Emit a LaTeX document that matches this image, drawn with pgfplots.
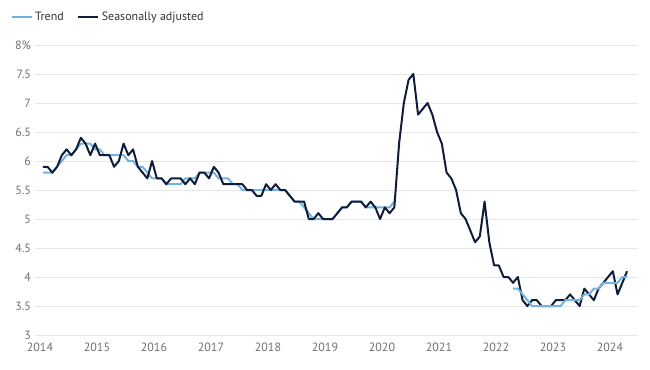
\documentclass[border=0pt]{standalone}
\usepackage{fontspec}
\setmainfont{PT Sans}
\usepackage{pgfplots}
\usepackage{pgfplotstable}
\pgfplotsset{compat=1.18}
\definecolor{navy}{HTML}{0F1D3A}
\definecolor{lblue}{HTML}{74B3DE}
\definecolor{gridc}{HTML}{E6E6E6}
\definecolor{tickc}{HTML}{707070}
\definecolor{legc}{HTML}{333333}
\pgfplotstableread{
m v
0 5.9
1 5.9
2 5.8
3 5.9
4 6.1
5 6.2
6 6.1
7 6.2
8 6.4
9 6.3
10 6.1
11 6.3
12 6.1
13 6.1
14 6.1
15 5.9
16 6.0
17 6.3
18 6.1
19 6.2
20 5.9
21 5.8
22 5.7
23 6.0
24 5.7
25 5.7
26 5.6
27 5.7
28 5.7
29 5.7
30 5.6
31 5.7
32 5.6
33 5.8
34 5.8
35 5.7
36 5.9
37 5.8
38 5.6
39 5.6
40 5.6
41 5.6
42 5.6
43 5.5
44 5.5
45 5.4
46 5.4
47 5.6
48 5.5
49 5.6
50 5.5
51 5.5
52 5.4
53 5.3
54 5.3
55 5.3
56 5.0
57 5.0
58 5.1
59 5.0
60 5.0
61 5.0
62 5.1
63 5.2
64 5.2
65 5.3
66 5.3
67 5.3
68 5.2
69 5.3
70 5.2
71 5.0
72 5.2
73 5.1
74 5.2
75 6.3
76 7.0
77 7.4
78 7.5
79 6.8
80 6.9
81 7.0
82 6.8
83 6.5
84 6.3
85 5.8
86 5.7
87 5.5
88 5.1
89 5.0
90 4.8
91 4.6
92 4.7
93 5.3
94 4.6
95 4.2
96 4.2
97 4.0
98 4.0
99 3.9
100 4.0
101 3.6
102 3.5
103 3.6
104 3.6
105 3.5
106 3.5
107 3.5
108 3.6
109 3.6
110 3.6
111 3.7
112 3.6
113 3.5
114 3.8
115 3.7
116 3.6
117 3.8
118 3.9
119 4.0
120 4.1
121 3.7
122 3.9
123 4.1
}\sa
\pgfplotstableread{
m v
0 5.8
1 5.8
2 5.8
3 5.9
4 6.0
5 6.1
6 6.1
7 6.2
8 6.3
9 6.3
10 6.3
11 6.2
12 6.2
13 6.1
14 6.1
15 6.1
16 6.1
17 6.1
18 6.0
19 6.0
20 5.9
21 5.9
22 5.8
23 5.7
24 5.7
25 5.7
26 5.6
27 5.6
28 5.6
29 5.6
30 5.7
31 5.7
32 5.7
33 5.8
34 5.8
35 5.8
36 5.8
37 5.7
38 5.7
39 5.7
40 5.6
41 5.6
42 5.5
43 5.5
44 5.5
45 5.5
46 5.5
47 5.5
48 5.5
49 5.5
50 5.5
51 5.5
52 5.4
53 5.3
54 5.3
55 5.2
56 5.1
57 5.0
58 5.0
59 5.0
60 5.0
61 5.0
62 5.1
63 5.2
64 5.2
65 5.3
66 5.3
67 5.3
68 5.2
69 5.2
70 5.2
71 5.2
72 5.2
73 5.2
74 5.3
}\trendA
\pgfplotstableread{
m v
99 3.8
100 3.8
101 3.7
102 3.6
103 3.5
104 3.5
105 3.5
106 3.5
107 3.5
108 3.5
109 3.5
110 3.6
111 3.6
112 3.6
113 3.6
114 3.7
115 3.7
116 3.8
117 3.8
118 3.9
119 3.9
120 3.9
121 3.9
122 4.0
123 4.0
}\trendB
\begin{document}
\begin{tikzpicture}
\path[use as bounding box] (0,0) rectangle (487.5pt,276.75pt);
\begin{axis}[
  at={(26.25pt,25.5pt)}, anchor=south west,
  scale only axis, width=452.25pt, height=217.5pt,
  xmin=-1.05, xmax=125.9, ymin=3, ymax=8,
  axis line style={draw=none},
  major tick length=0pt,
  ymajorgrids, grid style={gridc, line width=0.75pt},
  clip=false,
  xtick={0,12,...,120},
  xticklabels={2014,2015,2016,2017,2018,2019,2020,2021,2022,2023,2024},
  ytick={3,3.5,...,8},
  yticklabels={3,3.5,4,4.5,5,5.5,6,6.5,7,7.5,8\%},
  tick label style={font=\fontsize{9}{10}\selectfont, text=tickc},
  xticklabel style={yshift=-2.5pt},
  yticklabel style={xshift=0.5pt},
  legend style={at={(-0.041,1.0966)}, anchor=west, draw=none, fill=none,
    font=\fontsize{9}{10}\selectfont\color{legc}, legend columns=2,
    /tikz/every even column/.append style={column sep=8pt},
    inner sep=0pt},
  legend image code/.code={\draw[#1, line width=1.5pt] (0pt,0pt) -- (15pt,0pt);},
]
\addplot[lblue, line width=1.5pt, line join=round] table[x expr=\thisrow{m}+0.6, y=v] {\trendA};
\addlegendentry{Trend}
\addplot[navy, line width=1.5pt, line join=round] table[x expr=\thisrow{m}+0.6, y=v] {\sa};
\addlegendentry{Seasonally adjusted}
\addplot[lblue, line width=1.5pt, line join=round, forget plot] table[x expr=\thisrow{m}+0.6, y=v] {\trendB};
\end{axis}
\end{tikzpicture}
\end{document}
